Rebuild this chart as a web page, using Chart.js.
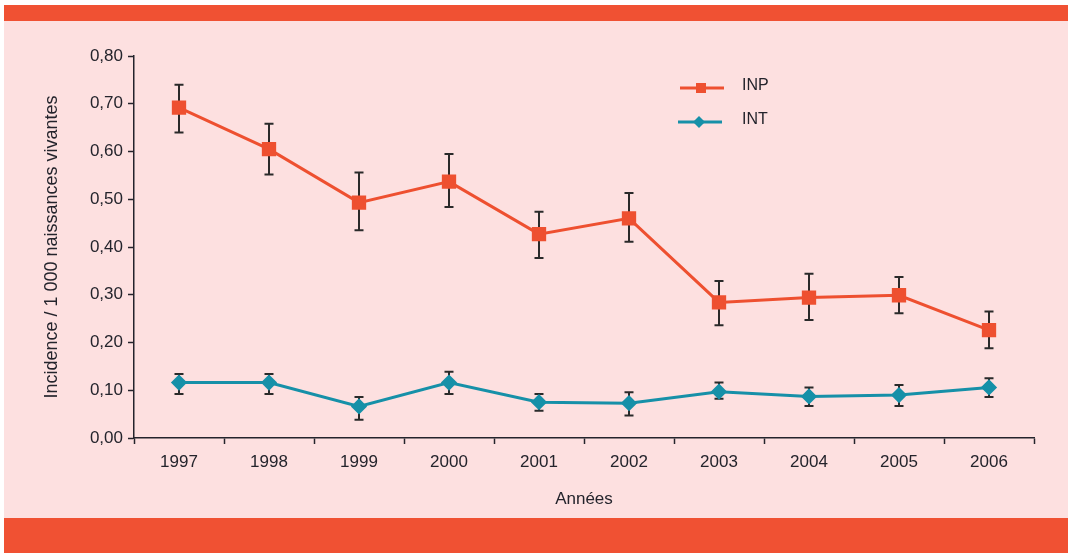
<!DOCTYPE html>
<html>
<head>
<meta charset="utf-8">
<script src="https://cdn.jsdelivr.net/npm/chart.js@4.4.0/dist/chart.umd.min.js"></script>
<style>
  html, body { margin: 0; padding: 0; background: #ffffff; }
  .panel { position: absolute; left: 4px; top: 5px; width: 1064px; height: 548px; background: #fde0e0; }
  .bar-top { position: absolute; left: 4px; top: 5px; width: 1064px; height: 16px; background: #f05133; }
  .bar-bottom { position: absolute; left: 4px; top: 518px; width: 1064px; height: 35px; background: #f05133; }
  #chart { position: absolute; left: 0; top: 0; }
</style>
</head>
<body>
<div class="panel"></div>
<div class="bar-top"></div>
<div class="bar-bottom"></div>
<canvas id="chart" width="1070" height="555"></canvas>
<script>
const YEARS = ['1997', '1998', '1999', '2000', '2001', '2002', '2003', '2004', '2005', '2006'];

const INP_VALUES = [0.692, 0.605, 0.493, 0.537, 0.427, 0.460, 0.284, 0.294, 0.299, 0.226];
const INP_LOW    = [0.640, 0.552, 0.435, 0.484, 0.377, 0.411, 0.236, 0.247, 0.261, 0.188];
const INP_HIGH   = [0.740, 0.658, 0.556, 0.595, 0.474, 0.513, 0.329, 0.344, 0.337, 0.265];

const INT_VALUES = [0.116, 0.116, 0.066, 0.116, 0.075, 0.073, 0.097, 0.087, 0.090, 0.106];
const INT_LOW    = [0.092, 0.092, 0.038, 0.092, 0.057, 0.047, 0.082, 0.067, 0.067, 0.086];
const INT_HIGH   = [0.134, 0.134, 0.086, 0.139, 0.092, 0.096, 0.116, 0.106, 0.111, 0.125];

const Y_TICKS = [0, 0.1, 0.2, 0.3, 0.4, 0.5, 0.6, 0.7, 0.8];

const FONT = "'Liberation Sans', Arial, sans-serif";
const INK = '#24242c';
const INP_COLOR = '#ee5030';
const INT_COLOR = '#1690a8';

// error bars, drawn under the lines
const errorBars = {
    id: 'errorBars',
    beforeDatasetsDraw(chart) {
        const ctx = chart.ctx;
        const x = chart.scales.x;
        const y = chart.scales.y;
        ctx.save();
        ctx.strokeStyle = '#2a2a2a';
        ctx.lineWidth = 2;
        chart.data.datasets.forEach(ds => {
            ds.errLow.forEach((lo, i) => {
                const px = x.getPixelForValue(i);
                const yl = y.getPixelForValue(lo);
                const yh = y.getPixelForValue(ds.errHigh[i]);
                ctx.beginPath();
                ctx.moveTo(px, yl); ctx.lineTo(px, yh);
                ctx.moveTo(px - 4.5, yl); ctx.lineTo(px + 4.5, yl);
                ctx.moveTo(px - 4.5, yh); ctx.lineTo(px + 4.5, yh);
                ctx.stroke();
            });
        });
        ctx.restore();
    }
};

// small legend inside the plot, top right
const sideLegend = {
    id: 'sideLegend',
    afterDraw(chart) {
        const ctx = chart.ctx;
        const rows = [{ y: 88, x0: 680 }, { y: 122, x0: 678 }];
        ctx.save();
        chart.data.datasets.forEach((ds, i) => {
            const r = rows[i];
            ctx.strokeStyle = ds.borderColor;
            ctx.lineWidth = 3;
            ctx.beginPath();
            ctx.moveTo(r.x0, r.y); ctx.lineTo(r.x0 + 44, r.y);
            ctx.stroke();
            ctx.fillStyle = ds.borderColor;
            const cx = r.x0 + 21;
            if (ds.pointStyle === 'rect') {
                ctx.fillRect(cx - 5, r.y - 5, 10, 10);
            } else {
                ctx.beginPath();
                ctx.moveTo(cx, r.y - 6); ctx.lineTo(cx + 6, r.y);
                ctx.lineTo(cx, r.y + 6); ctx.lineTo(cx - 6, r.y);
                ctx.closePath(); ctx.fill();
            }
            ctx.fillStyle = INK;
            ctx.font = '16px ' + FONT;
            ctx.textBaseline = 'middle';
            ctx.fillText(ds.label, 742, r.y - 2);
        });
        ctx.restore();
    }
};

const chartData = {
    labels: YEARS,
    datasets: [
        {
            label: 'INP',
            data: INP_VALUES,
            errLow: INP_LOW,
            errHigh: INP_HIGH,
            borderColor: INP_COLOR,
            backgroundColor: INP_COLOR,
            borderWidth: 3,
            pointStyle: 'rect',
            pointRadius: 8,
            pointHoverRadius: 8
        },
        {
            label: 'INT',
            data: INT_VALUES,
            errLow: INT_LOW,
            errHigh: INT_HIGH,
            borderColor: INT_COLOR,
            backgroundColor: INT_COLOR,
            borderWidth: 3,
            pointStyle: 'rectRot',
            pointRadius: 6,
            pointHoverRadius: 6
        }
    ]
};

const chartConfig = {
    type: 'line',
    data: chartData,
    options: {
        responsive: false,
        animation: false,
        layout: { padding: { top: 56, right: 36, bottom: 45, left: 0 } },
        plugins: {
            legend: { display: false },
            tooltip: { enabled: false }
        },
        scales: {
            x: {
                offset: true,
                afterFit(scale) { scale.height = 72; },
                grid: { offset: true, drawOnChartArea: false, drawTicks: true, tickLength: 6, tickColor: INK, tickWidth: 1.5 },
                border: { display: true, color: INK, width: 1.5 },
                ticks: { color: INK, font: { family: FONT, size: 17 }, padding: 8, maxRotation: 0 },
                title: { display: true, text: 'Années', color: INK, font: { family: FONT, size: 17 }, padding: { top: 6, bottom: 0 } }
            },
            y: {
                min: 0,
                max: 0.8,
                afterFit(scale) { scale.width = 134; },
                afterBuildTicks(scale) { scale.ticks = Y_TICKS.map(v => ({ value: v })); },
                grid: { drawOnChartArea: false, drawTicks: true, tickLength: 6, tickColor: INK, tickWidth: 1.5 },
                border: { display: true, color: INK, width: 1.5 },
                ticks: {
                    color: INK,
                    font: { family: FONT, size: 17 },
                    padding: 5,
                    callback: v => v.toFixed(2).replace('.', ',')
                },
                title: {
                    display: true,
                    text: 'Incidence / 1 000 naissances vivantes',
                    color: INK,
                    font: { family: FONT, size: 18 },
                    padding: { top: 41, bottom: 0 }
                }
            }
        }
    },
    plugins: [errorBars, sideLegend]
};

const lineChart = new Chart(document.getElementById('chart'), chartConfig);
</script>
</body>
</html>
